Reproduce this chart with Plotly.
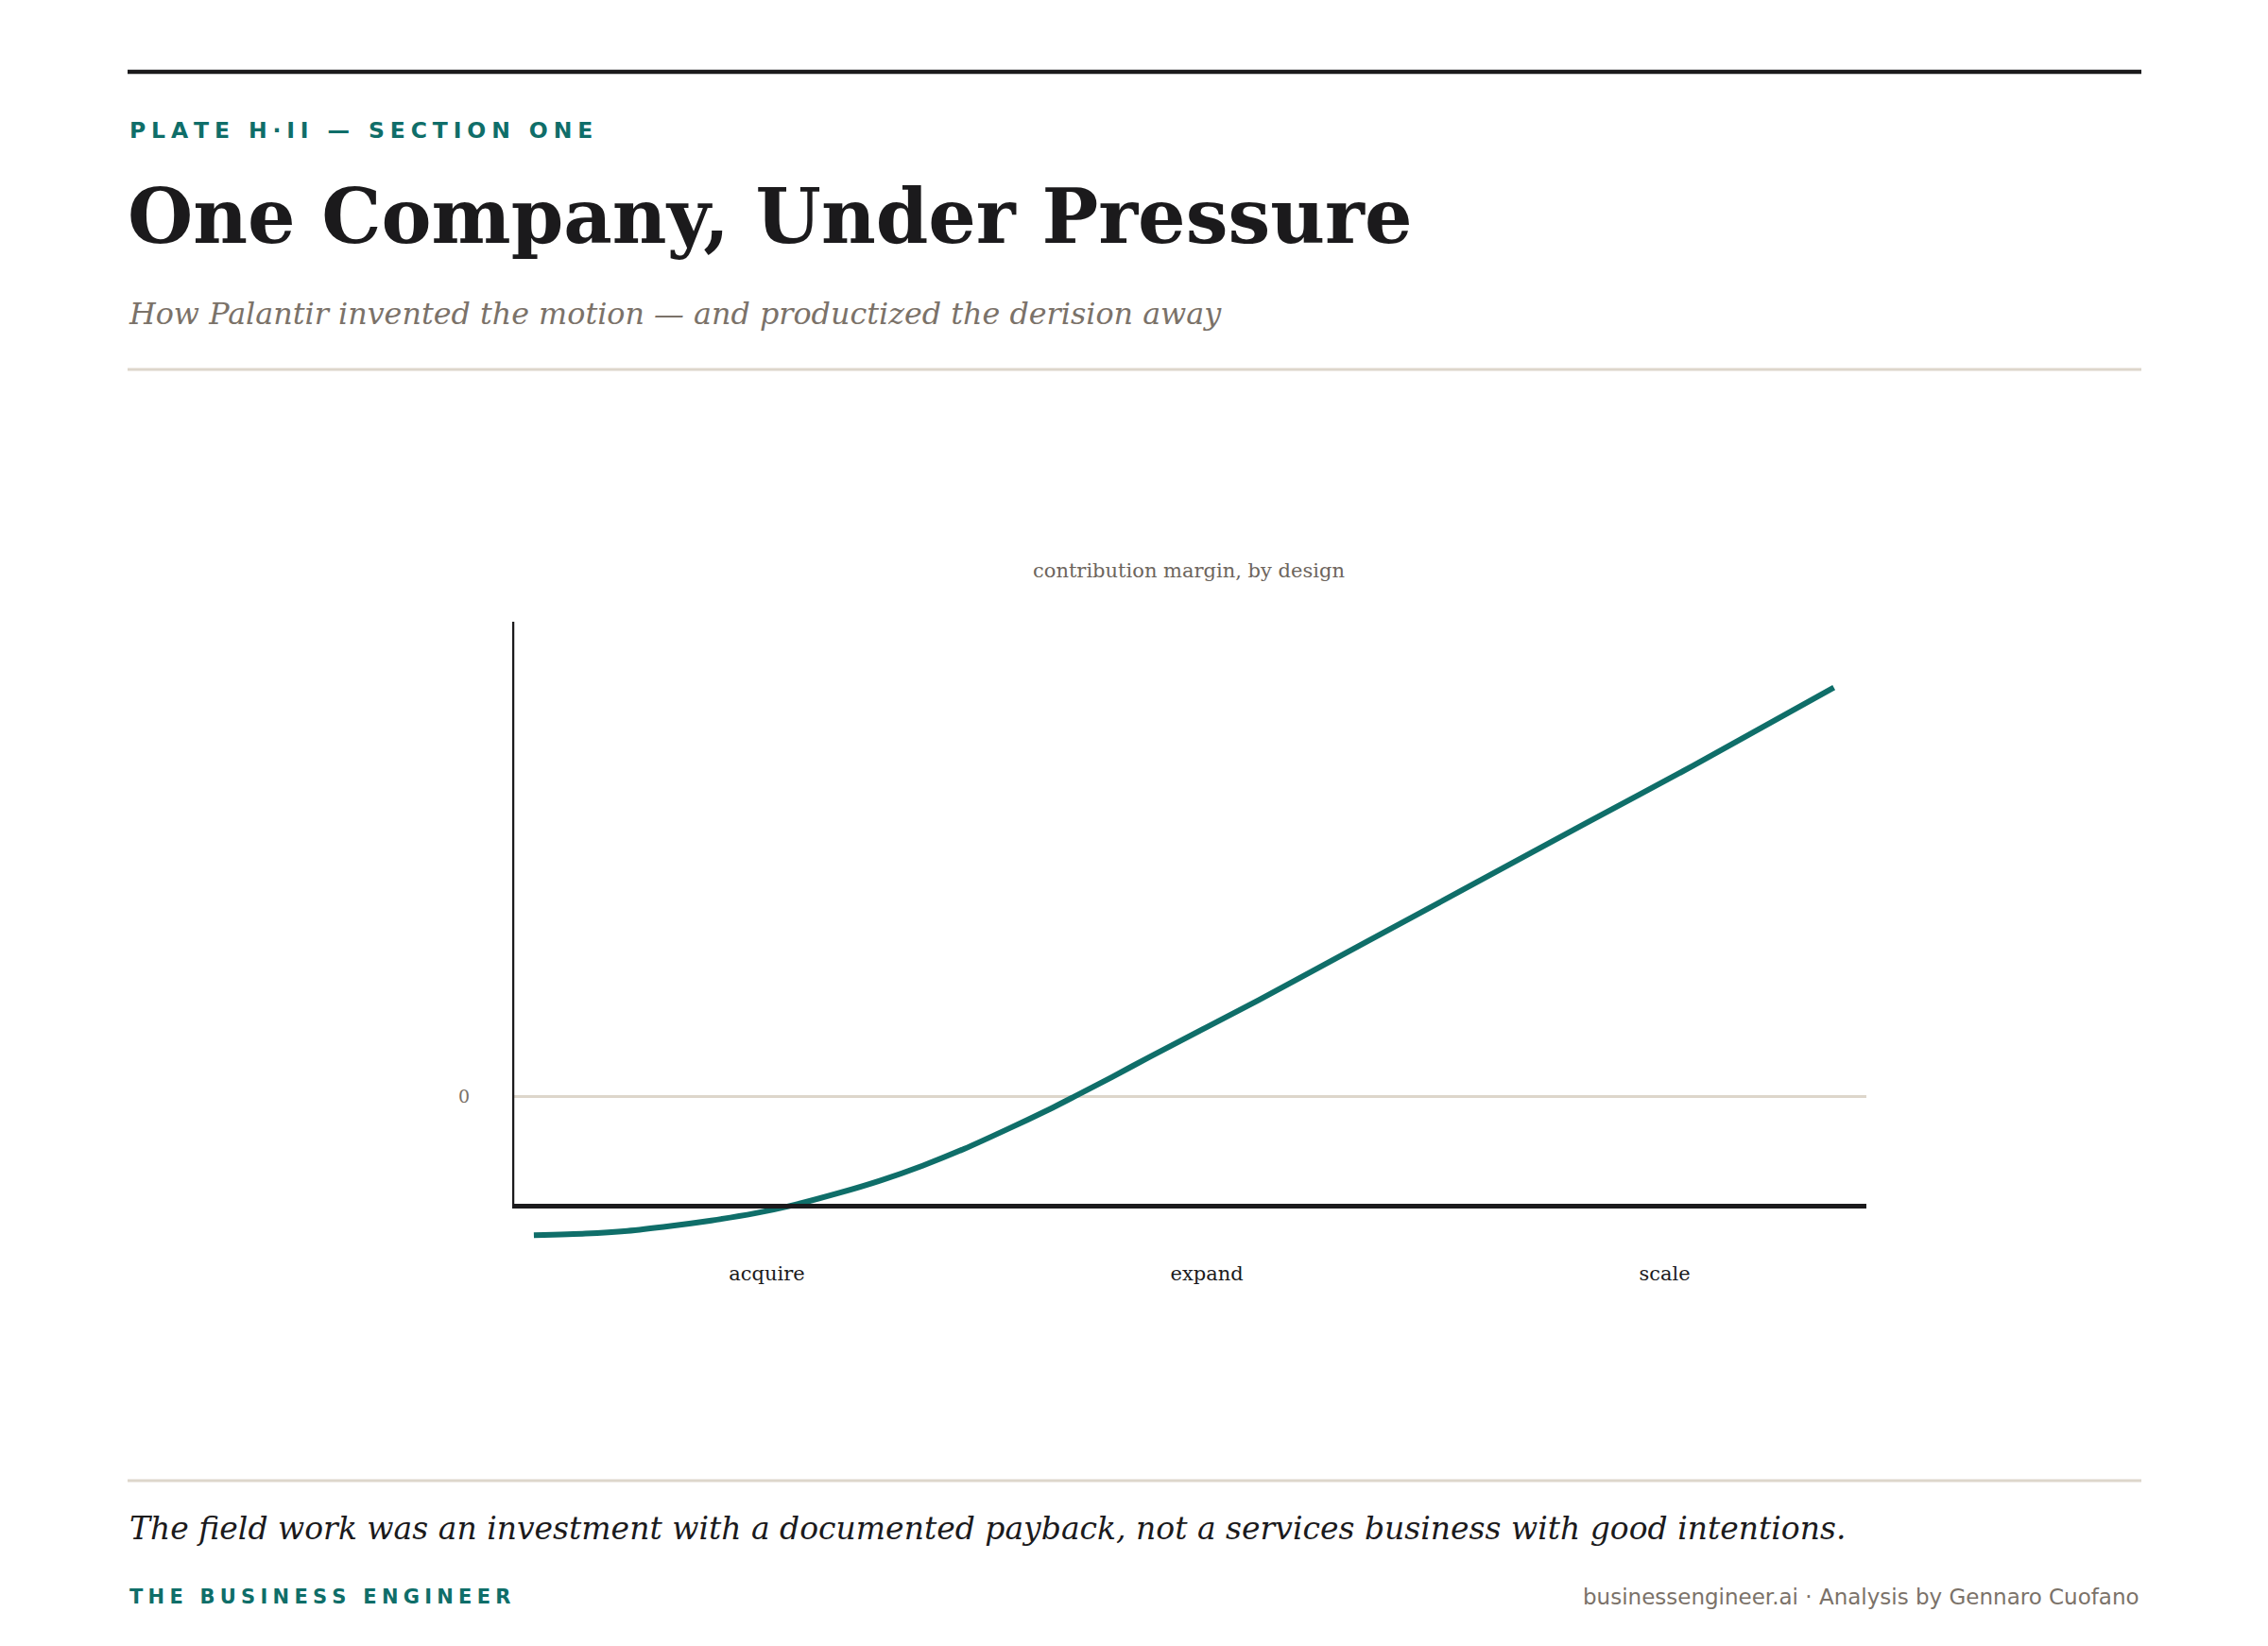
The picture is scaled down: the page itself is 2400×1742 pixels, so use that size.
import plotly.graph_objects as go

# stages along the lifecycle (x position, label)
stage_x = [18.8, 51.3, 85.1]
stage_labels = ["acquire", "expand", "scale"]

# contribution margin curve
curve_x = [1.6, 5.4, 8.5, 11.7, 14.7, 17.9, 20.4, 24.1, 27.2, 30.3, 33.4,
           36.6, 39.6, 41.5, 44.3, 47.1, 55.1, 63.1, 71.2, 79.2, 87.2, 97.6]
curve_y = [-25.3, -25.0, -24.5, -23.6, -22.6, -21.3, -20.0, -17.6, -15.3,
           -12.6, -9.5, -5.9, -2.4, 0.0, 3.6, 7.3, 17.6, 28.3, 39.1, 49.8,
           60.4, 74.7]

axis_floor = -20
y_range = [-28, 86.7]
x_range = [0, 100]

TEAL = "#0f6e69"
INK = "#1b1a1c"
GREY = "#7b7269"
RULE = "#ddd6cb"
SERIF = "DejaVu Serif"
SANS = "DejaVu Sans"

# page is offset by the browser's 8px body margin
OFF = 8
W, H = 2400 - 2 * OFF, 1742 - 2 * OFF
L, R, T, B = 542, 1975, 658, 1323


def px(x):
    return (x - L) / (R - L)


def py(y):
    return (B - y) / (B - T)


def spaced(s, gap="\u2009\u200a"):
    return gap.join(s)


fig = go.Figure()
fig.add_trace(go.Scatter(
    x=curve_x, y=curve_y, mode="lines",
    line=dict(color=TEAL, width=6, shape="spline", smoothing=0.6),
    hoverinfo="skip", showlegend=False,
))

shapes = [
    # axes drawn by hand so the curve can dip under the floor
    dict(type="line", xref="x", yref="y", x0=x_range[0], x1=x_range[1],
         y0=axis_floor, y1=axis_floor, line=dict(color=INK, width=5)),
    dict(type="line", xref="x", yref="y", x0=x_range[0], x1=x_range[0],
         y0=axis_floor, y1=y_range[1], line=dict(color=INK, width=4.5)),
    # page rules
    dict(type="line", xref="paper", yref="paper", x0=px(135), x1=px(2266),
         y0=py(76), y1=py(76), line=dict(color=INK, width=4.5)),
    dict(type="line", xref="paper", yref="paper", x0=px(135), x1=px(2266),
         y0=py(391), y1=py(391), line=dict(color=RULE, width=3)),
    dict(type="line", xref="paper", yref="paper", x0=px(135), x1=px(2266),
         y0=py(1567), y1=py(1567), line=dict(color=RULE, width=3)),
]

annotations = [
    dict(text=spaced("PLATE H·II — SECTION ONE", "\u2005"), x=px(135),
         y=py(138), xanchor="left", yanchor="middle",
         font=dict(family=SANS, size=23.5, color=TEAL, weight="bold")),
    dict(text="One Company, Under Pressure", x=px(133), y=py(229),
         xanchor="left", yanchor="middle",
         font=dict(family=SERIF, size=79.5, color=INK, weight="bold")),
    dict(text="How Palantir invented the motion — and productized the derision away",
         x=px(134), y=py(331), xanchor="left", yanchor="middle",
         font=dict(family=SERIF, size=31.8, color=GREY, style="italic")),
    dict(text="contribution margin, by design", x=px(1258), y=py(604),
         xanchor="center", yanchor="middle",
         font=dict(family=SERIF, size=21, color="#6d655d")),
    dict(text="The field work was an investment with a documented payback, "
              "not a services business with good intentions.",
         x=px(135), y=py(1617), xanchor="left", yanchor="middle",
         font=dict(family=SERIF, size=33, color=INK, style="italic")),
    dict(text=spaced("THE BUSINESS ENGINEER", "\u2005"), x=px(135),
         y=py(1690), xanchor="left", yanchor="middle",
         font=dict(family=SANS, size=21, color=TEAL, weight="bold")),
    dict(text="businessengineer.ai · Analysis by Gennaro Cuofano",
         x=px(2266), y=py(1690), xanchor="right", yanchor="middle",
         font=dict(family=SANS, size=23, color=GREY)),
]
for a in annotations:
    a.update(xref="paper", yref="paper", showarrow=False)

fig.update_layout(
    width=W, height=H,
    margin=dict(l=L - OFF, r=W + OFF - R, t=T - OFF, b=H + OFF - B, pad=0),
    paper_bgcolor="white", plot_bgcolor="white",
    showlegend=False,
    shapes=shapes,
    annotations=annotations,
    xaxis=dict(range=x_range, tickvals=stage_x, ticktext=stage_labels,
               showgrid=False, zeroline=False, showline=False, ticks="",
               ticklabelstandoff=10,
               tickfont=dict(family=SERIF, size=21, color=INK)),
    yaxis=dict(range=y_range, tickvals=[0], ticktext=["0"],
               showgrid=False, zeroline=True, zerolinecolor=RULE,
               zerolinewidth=3, showline=False, ticks="",
               ticklabelstandoff=44,
               tickfont=dict(family=SERIF, size=19, color=GREY)),
)

fig.write_html("out.html")
